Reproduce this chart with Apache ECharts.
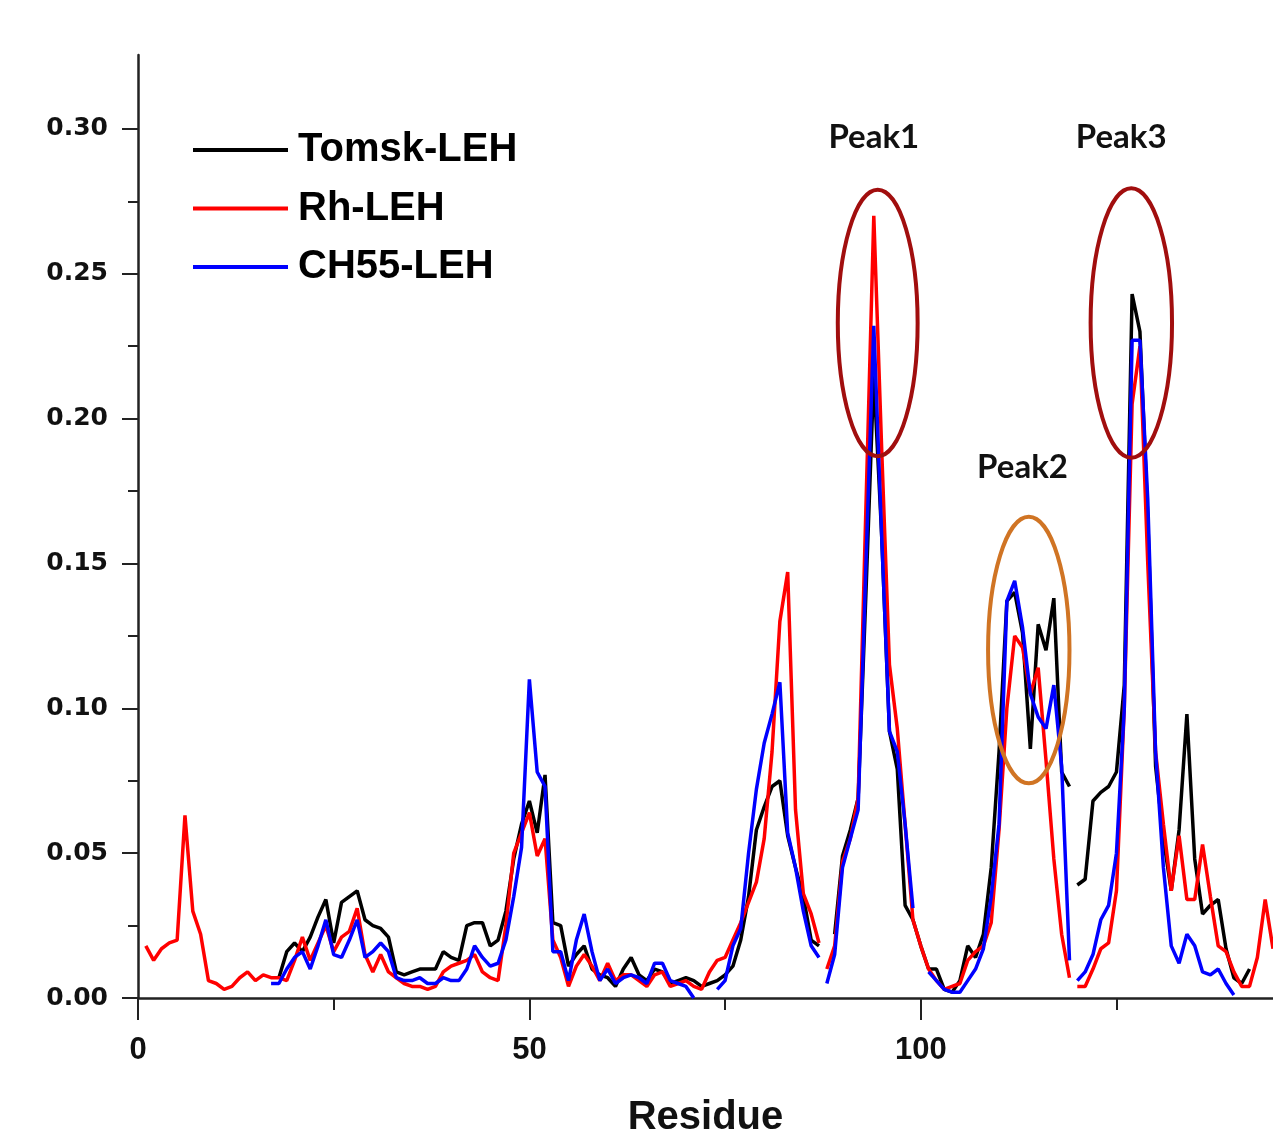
<!DOCTYPE html>
<html>
<head>
<meta charset="utf-8">
<script src="https://cdn.jsdelivr.net/npm/echarts@6/dist/echarts.min.js"></script>
<style>
html,body{margin:0;padding:0;background:#fff;}
#chart{width:1273px;height:1135px;}
</style>
</head>
<body>
<div id="chart"></div>
<script>
// ---- data (residue-indexed values, null = missing residue) ----
const seriesNames = ['Tomsk-LEH', 'Rh-LEH', 'CH55-LEH'];

const tomskStart = 18;
const tomsk = [
  0.007,0.016,0.019,0.016,0.021,0.028,0.034,0.019,0.033,0.035,   // 18-27
  0.037,0.027,0.025,0.024,0.021,0.009,0.008,0.009,0.010,0.010,   // 28-37
  0.010,0.016,0.014,0.013,0.025,0.026,0.026,0.018,0.020,0.030,   // 38-47
  0.048,0.060,0.068,0.057,0.077,0.026,0.025,0.011,0.015,0.018,   // 48-57
  0.010,0.008,0.007,0.004,0.010,0.014,0.008,0.006,0.010,0.009,   // 58-67
  0.005,0.006,0.007,0.006,0.004,0.005,0.006,0.008,0.011,0.020,   // 68-77
  0.035,0.058,0.066,0.073,0.075,0.056,0.045,0.035,0.020,0.018,   // 78-87
  null, 0.022,0.049,0.058,0.069,0.140,0.215,0.160,0.092,0.079,   // 88-97
  0.032,0.027,0.018,0.010,0.010,0.003,0.002,0.006,0.018,0.014,   // 98-107
  0.022,0.045,0.085,0.137,0.140,0.126,0.086,0.129,0.120,0.138,   // 108-117
  0.078,0.073,0.039,0.041,0.068,0.071,0.073,0.078,0.108,0.243,   // 118-127
  0.230,0.166,0.080,0.055,0.037,0.058,0.098,0.048,0.029,0.032,   // 128-137
  0.034,0.017,0.007,0.005,0.010                                  // 138-142
];
const tomskBreaks = [119];

const rhStart = 1;
const rh = [
  0.018,0.013,0.017,0.019,0.020,0.063,0.030,0.022,0.006,0.005,   // 1-10
  0.003,0.004,0.007,0.009,0.006,0.008,0.007,0.007,0.006,0.013,   // 11-20
  0.021,0.013,0.019,0.025,0.016,0.021,0.023,0.031,0.015,0.009,   // 21-30
  0.015,0.009,0.007,0.005,0.004,0.004,0.003,0.004,0.009,0.011,   // 31-40
  0.012,0.013,0.015,0.009,0.007,0.006,0.025,0.050,0.057,0.064,   // 41-50
  0.049,0.055,0.020,0.014,0.004,0.011,0.015,0.011,0.006,0.012,   // 51-60
  0.006,0.008,0.008,0.006,0.004,0.008,0.009,0.004,0.005,0.006,   // 61-70
  0.004,0.003,0.009,0.013,0.014,0.020,0.026,0.033,0.040,0.055,   // 71-80
  0.085,0.130,0.147,0.065,0.036,0.029,0.019,0.010,0.018,0.047,   // 81-90
  0.055,0.069,0.170,0.270,0.190,0.115,0.093,0.060,0.027,0.018,   // 91-100
  0.010,0.006,0.003,0.004,0.005,0.013,0.016,0.018,0.026,0.058,   // 101-110
  0.100,0.125,0.121,0.105,0.114,0.082,0.048,0.022,0.007,0.004,   // 111-120
  0.004,0.010,0.017,0.019,0.037,0.100,0.205,0.225,0.150,0.085,   // 121-130
  0.060,0.037,0.056,0.034,0.034,0.053,0.035,0.018,0.016,0.009,   // 131-140
  0.004,0.004,0.014,0.034,0.017                                  // 141-145
];
const rhBreaks = [87, 119];

const ch55Start = 17;
const ch55 = [
  0.005,0.005,0.010,0.014,0.016,0.010,0.018,0.027,0.015,0.014,   // 17-26
  0.020,0.027,0.014,0.016,0.019,0.016,0.007,0.006,0.006,0.007,   // 27-36
  0.005,0.005,0.007,0.006,0.006,0.010,0.018,0.014,0.011,0.012,   // 37-46
  0.020,0.035,0.052,0.110,0.078,0.073,0.016,0.016,0.006,0.020,   // 47-56
  0.029,0.016,0.006,0.010,0.005,0.007,0.008,0.007,0.005,0.012,   // 57-66
  0.012,0.006,0.005,0.004,0.000,null, null, 0.003,0.006,0.018,   // 67-76
  0.024,0.050,0.072,0.088,0.098,0.109,0.057,0.045,0.030,0.018,   // 77-86
  0.014,0.005,0.015,0.045,0.055,0.065,0.150,0.232,0.160,0.092,   // 87-96
  0.085,0.060,0.031,null, 0.009,0.006,0.003,0.002,0.002,0.006,   // 97-106
  0.010,0.017,0.035,0.060,0.137,0.144,0.128,0.105,0.097,0.093,   // 107-116
  0.108,0.080,0.013,0.006,0.009,0.015,0.027,0.032,0.050,0.100,   // 117-126
  0.227,0.227,0.172,0.085,0.045,0.018,0.012,0.022,0.018,0.009,   // 127-136
  0.008,0.010,0.005,0.001                                        // 137-140
];
const ch55Breaks = [87, 119];

const yMajorTicks = [0, 0.05, 0.10, 0.15, 0.20, 0.25, 0.30];
const yMinorTicks = [0.025, 0.075, 0.125, 0.175, 0.225, 0.275];
const xMajorTicks = [0, 50, 100];
const xMinorTicks = [25, 75, 125];

// annotations in data units: [residue, value, halfWidthResidues, halfHeightValue]
const peakLabels = ['Peak1', 'Peak2', 'Peak3'];
const peakLabelPos = [[94.0, 0.297], [113.0, 0.183], [125.6, 0.297]];
const peakEllipses = [[94.5, 0.2330, 5.1, 0.0460], [113.8, 0.1201, 5.2, 0.0460], [126.9, 0.2330, 5.2, 0.0465]];
const ellipseColors = ['#a10e0e', '#d07424', '#a10e0e'];

const colors = {'Tomsk-LEH': '#000000', 'Rh-LEH': '#ff0000', 'CH55-LEH': '#0000ff'};

function segments(start, values, breaks) {
  const segs = [];
  let cur = [];
  values.forEach((v, i) => {
    const r = start + i;
    if (v === null) {
      if (cur.length) segs.push(cur);
      cur = [];
      return;
    }
    cur.push([r, v]);
    if (breaks.indexOf(r) >= 0) { segs.push(cur); cur = []; }
  });
  if (cur.length) segs.push(cur);
  return segs;
}

const allSeries = [];
[[seriesNames[0], tomskStart, tomsk, tomskBreaks],
 [seriesNames[1], rhStart, rh, rhBreaks],
 [seriesNames[2], ch55Start, ch55, ch55Breaks]].forEach(([name, start, vals, br], k) => {
  segments(start, vals, br).forEach(seg => {
    allSeries.push({
      name: name, type: 'line', data: seg, xAxisIndex: 0, yAxisIndex: 0,
      symbol: 'none', showSymbol: false, z: 2 + k,
      lineStyle: {color: colors[name], width: 3.5},
      itemStyle: {color: colors[name]},
      animation: false
    });
  });
});

const chart = echarts.init(document.getElementById('chart'));
const axisColor = '#222';

chart.setOption({
  backgroundColor: '#ffffff',
  animation: false,
  grid: {left: 138, right: 0, top: 55, height: 943, containLabel: false, outerBoundsMode: 'none'},
  legend: {
    data: seriesNames, orient: 'vertical', left: 193, top: 130, padding: 0,
    icon: 'rect', itemWidth: 95, itemHeight: 4, itemGap: 18.5,
    selectedMode: false,
    textStyle: {fontFamily: 'Liberation Sans', fontWeight: 'bold', fontSize: 40, color: '#000', lineHeight: 40, padding: [0, 0, 0, 5]}
  },
  xAxis: [{
    type: 'value', min: 0, max: 145, position: 'bottom',
    name: 'Residue', nameLocation: 'middle', nameGap: 100,
    nameTextStyle: {fontFamily: 'Liberation Sans', fontWeight: 'bold', fontSize: 40, color: '#111'},
    axisLine: {show: true, onZero: false, lineStyle: {color: axisColor, width: 2.5}},
    axisTick: {show: true, customValues: xMajorTicks, length: 22, lineStyle: {color: axisColor, width: 2}},
    axisLabel: {show: true, customValues: xMajorTicks, margin: 37,
      fontFamily: 'Liberation Sans', fontWeight: 'bold', fontSize: 31, color: '#111'},
    splitLine: {show: false}
  }, {
    type: 'value', min: 0, max: 145, position: 'bottom',
    axisLine: {show: false},
    axisTick: {show: true, customValues: xMinorTicks, length: 12, lineStyle: {color: axisColor, width: 2}},
    axisLabel: {show: false}, splitLine: {show: false}
  }],
  yAxis: [{
    type: 'value', min: 0, max: 0.3255, position: 'left',
    axisLine: {show: true, onZero: false, lineStyle: {color: axisColor, width: 2.5}},
    axisTick: {show: true, customValues: yMajorTicks, length: 16, lineStyle: {color: axisColor, width: 2}},
    axisLabel: {show: true, customValues: yMajorTicks, margin: 30,
      fontFamily: 'DejaVu Sans', fontWeight: 'bold', fontSize: 25, color: '#111',
      formatter: v => v.toFixed(2)},
    splitLine: {show: false}
  }, {
    type: 'value', min: 0, max: 0.3255, position: 'left',
    axisLine: {show: false},
    axisTick: {show: true, customValues: yMinorTicks, length: 10, lineStyle: {color: axisColor, width: 2}},
    axisLabel: {show: false}, splitLine: {show: false}
  }],
  series: allSeries
});

function drawAnnotations() {
  const els = [];
  peakEllipses.forEach((e, i) => {
    const c = chart.convertToPixel({gridIndex: 0}, [e[0], e[1]]);
    const p = chart.convertToPixel({gridIndex: 0}, [e[0] + e[2], e[1] + e[3]]);
    els.push({
      type: 'ellipse', z: 10,
      shape: {cx: c[0], cy: c[1], rx: Math.abs(p[0] - c[0]), ry: Math.abs(c[1] - p[1])},
      style: {fill: null, stroke: ellipseColors[i], lineWidth: 4}
    });
  });
  peakLabels.forEach((t, i) => {
    const c = chart.convertToPixel({gridIndex: 0}, peakLabelPos[i]);
    els.push({
      type: 'text', z: 10, x: c[0], y: c[1],
      style: {text: t, fill: '#111', font: 'bold 33px Lato', textAlign: 'center', textVerticalAlign: 'middle'}
    });
  });
  chart.setOption({graphic: els});
}
drawAnnotations();
</script>
</body>
</html>
